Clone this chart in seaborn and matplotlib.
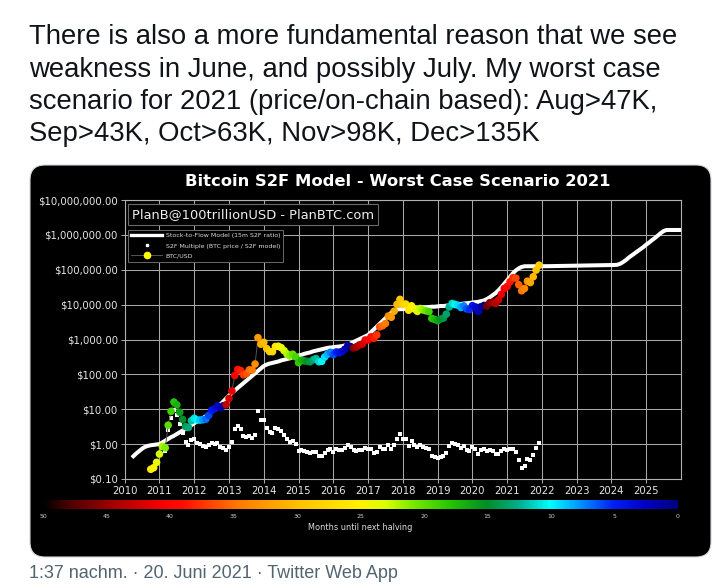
import numpy as np
import pandas as pd
import matplotlib
matplotlib.use("Agg")
import matplotlib.pyplot as plt
import seaborn as sns
from matplotlib.colors import LinearSegmentedColormap, Normalize
from matplotlib.lines import Line2D
from matplotlib.patches import FancyBboxPatch
from matplotlib.cm import ScalarMappable
from matplotlib.ticker import NullLocator

# ---------------- data ----------------
tweet_lines = [
    "There is also a more fundamental reason that we see",
    "weakness in June, and possibly July. My worst case",
    "scenario for 2021 (price/on-chain based): Aug>47K,",
    "Sep>43K, Oct>63K, Nov>98K, Dec>135K",
]
footer_text = "1:37 nachm. · 20. Juni 2021 · Twitter Web App"
chart_title = "Bitcoin S2F Model - Worst Case Scenario 2021"
watermark = "PlanB@100trillionUSD - PlanBTC.com"
legend_labels = ["Stock-to-Flow Model (15m S2F ratio)",
                 "S2F Multiple (BTC price / S2F model)",
                 "BTC/USD"]
colorbar_label = "Months until next halving"

year_ticks = list(range(2010, 2026))
price_ticks = [0.1, 1, 10, 100, 1e3, 1e4, 1e5, 1e6, 1e7]
price_tick_labels = ["$0.10", "$1.00", "$10.00", "$100.00", "$1,000.00",
                     "$10,000.00", "$100,000.00", "$1,000,000.00", "$10,000,000.00"]
colorbar_ticks = [50, 45, 40, 35, 30, 25, 20, 15, 10, 5, 0]

halvings = [2012.91, 2016.52, 2020.36, 2024.30]

# BTC/USD monthly, first value = Oct 2010
price_start_year, price_start_month = 2010, 10
btc_price = [
    0.19, 0.21, 0.30,
    0.52, 0.86, 0.78, 3.5, 8.7, 16.1, 13.4, 8.2, 5.1, 3.2, 3.0, 4.7,
    5.5, 4.9, 4.9, 5.0, 5.2, 6.7, 9.3, 10.2, 12.4, 11.2, 12.6, 13.5,
    20.4, 33.4, 93, 139, 129, 97, 106, 135, 133, 198, 1130, 732,
    830, 550, 450, 448, 630, 640, 586, 480, 386, 338, 378, 320,
    217, 254, 244, 236, 230, 263, 284, 230, 236, 314, 378, 430,
    368, 437, 416, 448, 531, 673, 624, 575, 609, 700, 742, 964,
    970, 1190, 1080, 1350, 2300, 2480, 2875, 4700, 4340, 6470, 10200, 14150,
    10200, 10400, 6900, 9240, 7500, 6400, 7730, 7030, 6630, 6320, 4020, 3740,
    3460, 3850, 4100, 5350, 8560, 10800, 10100, 9600, 8300, 9200, 7570, 7190,
    9350, 8600, 6400, 8620, 9450, 9140, 11350, 11650, 10780, 13800, 19700, 29000,
    33100, 45200, 58800, 57700, 37300, 25000, 29000, 47000, 43000, 63000, 98000, 135000,
]

# S2F model monthly, first value = Apr 2010
model_start_year, model_start_month = 2010, 4
s2f_model = [
    0.45, 0.54, 0.63, 0.74, 0.83, 0.89, 0.93, 0.95, 0.98,
    1.00, 1.12, 1.26, 1.41, 1.58, 1.74, 1.95, 2.19, 2.45, 2.75, 3.09, 3.47,
    3.98, 4.47, 5.01, 5.62, 6.31, 7.24, 8.51, 10.0, 11.7, 13.8, 16.6, 20.4,
    24.5, 29.5, 34.7, 40.7, 47.9, 56.2, 66.1, 77.6, 91.2, 107, 126, 148,
    174, 191, 204, 214, 224, 234, 251, 263, 275, 288, 309, 324,
    347, 363, 389, 407, 427, 457, 479, 501, 525, 550, 575, 589,
    603, 617, 631, 646, 676, 708, 776, 851, 933, 1023, 1122, 1230,
    1349, 1622, 1950, 2344, 2818, 3388, 4074, 4898, 5888, 6761, 7244, 7413,
    7413, 7586, 7586, 7762, 7943, 7943, 8128, 8318, 8318, 8511, 8710, 8710,
    8913, 9120, 9120, 9333, 9550, 9772, 10000, 10233, 10471, 10715, 10965, 11220,
    11482, 11749, 12023, 12589, 13183, 14454, 16218, 18621, 21380, 25704, 31623, 39811,
    50119, 63096, 79433, 95499, 109648, 120226, 125893, 125893, 125893, 125893, 125893, 125893,
    126000, 126300, 126600, 127000, 127300, 127700, 128000, 128400, 128700, 129100, 129400, 129800,
    130200, 130600, 131000, 131500, 132000, 132500, 133000, 133500, 134000, 134500, 135000, 135500,
    136000, 137000, 139000, 148000, 166000, 190000, 224000, 257000, 295000, 339000, 389000, 447000,
    525000, 603000, 708000, 813000, 955000, 1122000, 1288000, 1380000, 1380000, 1380000, 1380000, 1380000,
    1380000,
]

# colour stops of the "months until next halving" scale (months, rgb)
cmap_stops = [
    (0, (0.0, 0.0, 0.50)), (2.5, (0.0, 0.0, 0.78)), (5, (0.0, 0.12, 0.95)),
    (7.5, (0.0, 0.55, 1.0)), (10, (0.0, 1.0, 1.0)), (12.5, (0.0, 0.68, 0.55)),
    (15, (0.0, 0.55, 0.15)), (18, (0.15, 0.78, 0.0)), (21, (0.5, 0.92, 0.0)),
    (23, (0.85, 1.0, 0.0)), (25, (1.0, 0.95, 0.0)), (30, (1.0, 0.75, 0.0)),
    (35, (1.0, 0.45, 0.0)), (39, (1.0, 0.05, 0.0)), (41, (0.95, 0.0, 0.0)),
    (45, (0.6, 0.0, 0.0)), (48, (0.3, 0.0, 0.0)), (50, (0.0, 0.0, 0.0)),
]

# ---------------- derived tables ----------------
def month_axis(y0, m0, n):
    return np.array([y0 + (m0 - 1 + i) / 12.0 for i in range(n)])

price_dates = month_axis(price_start_year, price_start_month, len(btc_price))
model_dates = month_axis(model_start_year, model_start_month, len(s2f_model))
offset = (price_start_year - model_start_year) * 12 + (price_start_month - model_start_month)
model_at_price = np.array(s2f_model[offset:offset + len(btc_price)])

def months_to_halving(t):
    nxt = min(h for h in halvings if h > t)
    return (nxt - t) * 12.0

df_price = pd.DataFrame({
    "date": price_dates,
    "price": btc_price,
    "multiple": np.array(btc_price) / model_at_price,
    "months": [months_to_halving(t) for t in price_dates],
})
df_model = pd.DataFrame({"date": model_dates, "model": s2f_model})

cmap = LinearSegmentedColormap.from_list(
    "halving", [(m / 50.0, c) for m, c in cmap_stops])
norm = Normalize(0, 50)

# ---------------- figure ----------------
W, H = 724, 588
fig = plt.figure(figsize=(W / 100, H / 100), dpi=100, facecolor="white")

bg = fig.add_axes([0, 0, 1, 1])
bg.set_xlim(0, W)
bg.set_ylim(H, 0)
bg.axis("off")
bg.set_zorder(0)

tweet_font = ["Liberation Sans", "DejaVu Sans"]
for i, line in enumerate(tweet_lines):
    bg.text(29, 44.5 + i * 32.2, line, fontsize=19.8, family=tweet_font,
            color="#0f1419", va="baseline", ha="left")

bg.add_patch(FancyBboxPatch((30, 165), 681, 392,
                            boxstyle="round,pad=0,rounding_size=15",
                            fc="black", ec="#cfd9de", lw=0.8))
bg.text(398, 182, chart_title, ha="center", va="center", color="white",
        fontsize=11.8, fontweight="bold", family="DejaVu Sans")
bg.text(360, 527, colorbar_label, ha="center", va="center", color="#dddddd",
        fontsize=5.9, family="DejaVu Sans")
bg.text(29, 573, footer_text, ha="left", va="center", color="#536471",
        fontsize=13.0, family=tweet_font)

# main chart axes
x0, x1, y0, y1 = 124.7, 681.0, 200.0, 479.0
ax = fig.add_axes([x0 / W, 1 - y1 / H, (x1 - x0) / W, (y1 - y0) / H])
ax.set_zorder(1)
ax.set_facecolor("black")

sns.scatterplot(data=df_price, x="date", y="multiple", ax=ax, color="white",
                marker="s", s=7, linewidth=0, zorder=2, legend=False)
sns.lineplot(data=df_model, x="date", y="model", ax=ax, color="white",
             lw=2.9, estimator=None, zorder=3, legend=False)
sns.lineplot(data=df_price, x="date", y="price", ax=ax, color="#555555",
             lw=0.7, estimator=None, zorder=4, legend=False)
sns.scatterplot(data=df_price, x="date", y="price", hue="months", ax=ax,
                palette=cmap, hue_norm=norm, s=30, linewidth=0, zorder=5,
                legend=False)

ax.set_yscale("log")
ax.set_xlim(2010, 2026)
ax.set_ylim(0.1, 1e7)
ax.set_xticks(year_ticks)
ax.set_xticklabels([str(y) for y in year_ticks])
ax.set_yticks(price_ticks)
ax.set_yticklabels(price_tick_labels)
ax.yaxis.set_minor_locator(NullLocator())
ax.set_xlabel("")
ax.set_ylabel("")
ax.grid(True, color="#a8a8a8", lw=0.75)
ax.set_axisbelow(True)
for sp in ax.spines.values():
    sp.set_color("#b0b0b0")
    sp.set_linewidth(0.8)
ax.tick_params(axis="both", colors="#b0b0b0", labelcolor="#e6e6e6",
               labelsize=7.3, length=3, width=0.7, pad=2)
for lab in ax.get_xticklabels() + ax.get_yticklabels():
    lab.set_family("DejaVu Sans")

ax.text((132 - x0) / (x1 - x0), (y1 - 214.5) / (y1 - y0), watermark,
        transform=ax.transAxes, ha="left", va="center", color="#eeeeee",
        fontsize=9.4, family="DejaVu Sans", zorder=6,
        bbox=dict(boxstyle="square,pad=0.28", fc="black", ec="#6a6a6a", lw=0.8))

handles = [
    Line2D([], [], color="white", lw=2.4),
    Line2D([], [], color="white", marker="s", ms=2.0, ls="none"),
    Line2D([], [], color="#555555", lw=0.7, marker="o", mfc="#ffff00",
           mec="#ffff00", ms=4.5),
]
leg = ax.legend(handles, legend_labels, loc="upper left",
                bbox_to_anchor=((128 - x0) / (x1 - x0), (y1 - 230) / (y1 - y0)),
                borderaxespad=0, fontsize=4.5, handlelength=5.0, handletextpad=0.5,
                labelspacing=0.75, borderpad=0.5, fancybox=False,
                facecolor="black", edgecolor="#6a6a6a", framealpha=1,
                labelcolor="#dddddd")
leg.get_frame().set_linewidth(0.7)
leg.set_zorder(7)

# colour bar
cax = fig.add_axes([43 / W, 1 - 509 / H, (678 - 43) / W, 9 / H])
cax.set_zorder(1)
cb = fig.colorbar(ScalarMappable(norm=norm, cmap=cmap), cax=cax,
                  orientation="horizontal")
cb.outline.set_visible(False)
cax.invert_xaxis()
cb.set_ticks(colorbar_ticks)
cb.set_ticklabels([str(t) for t in colorbar_ticks])
cax.tick_params(axis="x", length=0, pad=3.5, labelsize=4.5, labelcolor="#cccccc")
for lab in cax.get_xticklabels():
    lab.set_family("DejaVu Sans")

fig.savefig("out.png", dpi=100, facecolor="white")
